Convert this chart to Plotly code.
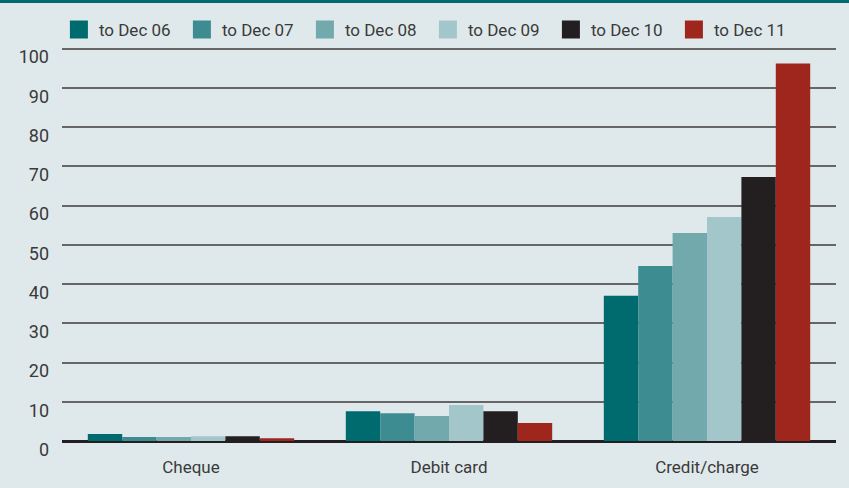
import plotly.graph_objects as go

categories = ["Cheque", "Debit card", "Credit/charge"]
series_names = ["to Dec 06", "to Dec 07", "to Dec 08", "to Dec 09", "to Dec 10", "to Dec 11"]
dec06 = [1.8, 7.6, 37.0]
dec07 = [1.0, 7.1, 44.6]
dec08 = [1.0, 6.4, 53.0]
dec09 = [1.2, 9.2, 57.1]
dec10 = [1.2, 7.6, 67.3]
dec11 = [0.7, 4.6, 96.2]
series_values = [dec06, dec07, dec08, dec09, dec10, dec11]
colors = ["#006b6e", "#3d8c92", "#72a9ad", "#a3c6cb", "#231f20", "#9e261d"]
y_ticks = [0, 10, 20, 30, 40, 50, 60, 70, 80, 90, 100]

FONT = "Roboto, sans-serif"
TXT = "#3a3a3a"
BG = "#dfe9eb"

fig = go.Figure()
for name, vals, col in zip(series_names, series_values, colors):
    fig.add_trace(go.Bar(x=categories, y=vals, name=name, marker=dict(color=col, line=dict(width=0)),
                         showlegend=False))
# legend swatches
for name, col in zip(series_names, colors):
    fig.add_trace(go.Scatter(x=[None], y=[None], mode="markers", name=name,
                             marker=dict(symbol="square", size=16, color=col, line=dict(color=col, width=2))))

fig.update_layout(
    width=849, height=488,
    paper_bgcolor=BG, plot_bgcolor=BG,
    margin=dict(l=62, r=13, t=47, b=47, autoexpand=False),
    barmode="group", bargap=0.2, bargroupgap=0,
    font=dict(family=FONT, color=TXT, size=17),
    showlegend=True,
    legend=dict(orientation="h", x=-0.004, xanchor="left", y=1.043, yanchor="middle",
                entrywidth=78, entrywidthmode="pixels", bgcolor="rgba(0,0,0,0)",
                font=dict(family=FONT, size=17, color=TXT), itemclick=False),
    xaxis=dict(showgrid=False, zeroline=False, showline=False, ticks="",
               tickfont=dict(family=FONT, size=17, color=TXT), ticklabelstandoff=14),
    yaxis=dict(range=[0, 100.4], tickvals=y_ticks, showgrid=True, gridcolor="#666666", gridwidth=1.5,
               zeroline=True, zerolinecolor="#231f20", zerolinewidth=2.5, showline=False, ticks="",
               ticklabelposition="outside bottom", ticklabelshift=-4,
               tickfont=dict(family=FONT, size=18, color=TXT), ticklabelstandoff=12),
    shapes=[dict(type="rect", xref="paper", yref="paper", x0=-0.2, x1=1.2, y0=1.1117, y1=1.13,
                 fillcolor="#006b6e", line=dict(width=0), layer="above")],
)

fig.write_html("out.html", config={"displayModeBar": False},
               post_script="document.body.style.margin='0';document.body.style.padding='0';")
